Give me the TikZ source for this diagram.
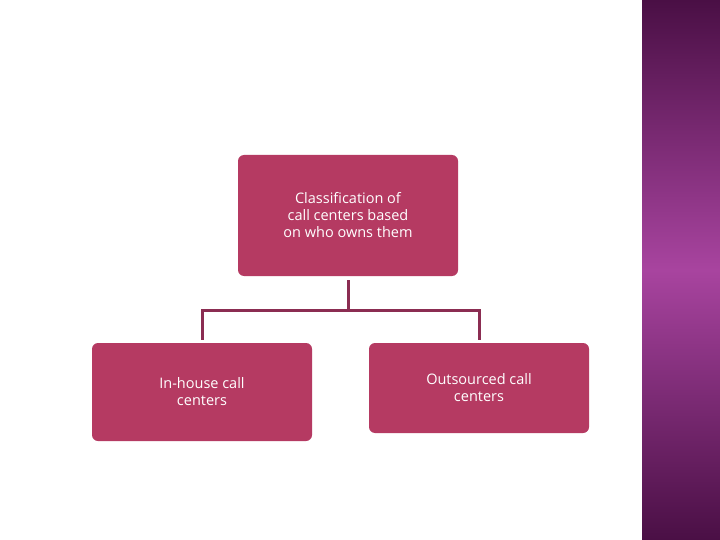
\documentclass[tikz,border=0pt]{standalone}
\usepackage{fontspec}
\setmainfont{Open Sans}
\definecolor{boxc}{HTML}{B53A62}
\definecolor{linec}{HTML}{8B2D52}
\definecolor{stripd}{HTML}{4A0F45}
\definecolor{stripl}{HTML}{A8449F}
\begin{document}
\begin{tikzpicture}[x=1pt,y=-1pt,
  box/.style={fill=boxc,rounded corners=6pt,text=white,align=center,font=\fontsize{14.5}{17}\selectfont,inner sep=0pt},
  conn/.style={draw=linec,line width=3pt}]
\useasboundingbox (0,0) rectangle (720,540);
\fill[white] (0,0) rectangle (720,540);
\shade[top color=stripd,bottom color=stripl] (642,0) rectangle (720,270);
\shade[top color=stripl,bottom color=stripd] (642,270) rectangle (720,540);
\node[box,minimum width=220pt,minimum height=121pt] (top) at (348,215.5) {Classification of\\call centers based\\on who owns them};
\node[box,minimum width=220pt,minimum height=98pt] (left) at (202,392) {In-house call\\centers};
\node[box,minimum width=220pt,minimum height=90pt] (right) at (479,388) {Outsourced call\\centers};
\coordinate (j) at (348,310);
\draw[conn] (top.south |- 0,280) -- (j);
\draw[conn] ([yshift=3pt]left.north) -- (left.north |- j) -- (right.north |- j) -- ([yshift=3pt]right.north);
\end{tikzpicture}
\end{document}
